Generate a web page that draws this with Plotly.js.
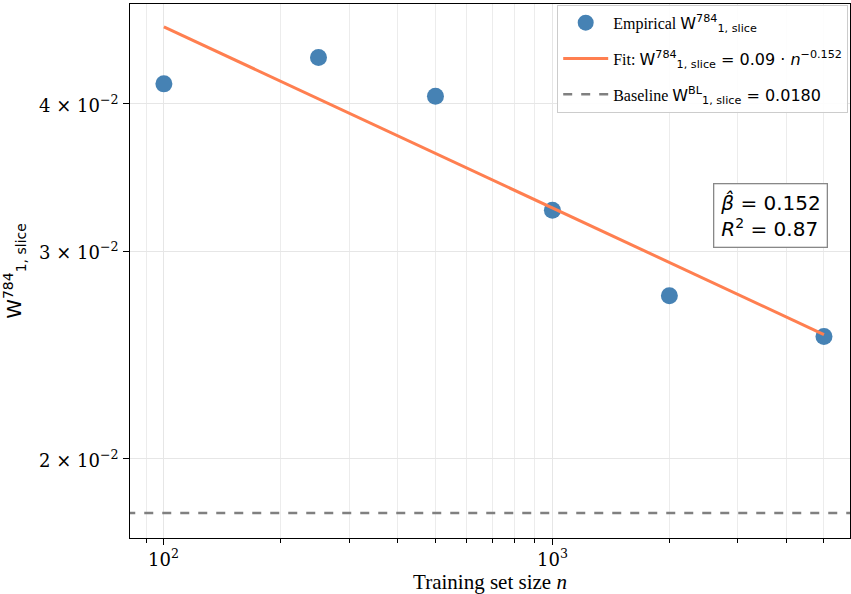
<!DOCTYPE html>
<html><head><meta charset="utf-8">
<script src="https://cdn.plot.ly/plotly-3.0.1.min.js"></script>
<style>body{margin:0;padding:0;background:#fff}#c{width:851px;height:594px}</style>
</head><body><div id="c"></div>
<script>
const trainSizes = [100, 250, 500, 1000, 2000, 5000];
const empirical = [0.0416, 0.0438, 0.0406, 0.0325, 0.0275, 0.0254];
const fitX = [100, 5000];
const fitY = [0.0465, 0.0255];
const baselineX = [80, 6000];
const baselineY = [0.0180, 0.0180];
const xTickVals = [100, 1000];
const xTickText = ['10<sup>2</sup>', '10<sup>3</sup>'];
const yTickVals = [0.02, 0.03, 0.04];
const yTickText = ['2 × 10<sup>−2</sup>', '3 × 10<sup>−2</sup>', '4 × 10<sup>−2</sup>'];
const xMinor = [90, 200, 300, 400, 500, 600, 700, 800, 900, 2000, 3000, 4000, 5000];

const serif = 'Liberation Serif, DejaVu Serif, serif';
const tickSerif = 'DejaVu Serif, serif';
const sans = 'DejaVu Sans, sans-serif';
const S = t => '<span style="font-family:DejaVu Sans">' + t + '</span>';
const W = 'W<sup>784</sup><sub>1, slice</sub>';

const traces = [
  {x: trainSizes, y: empirical, mode: 'markers', type: 'scatter', legendgroup: 'a',
   name: 'Empirical ' + S(W),
   marker: {size: 17, color: '#4682B4'}},
  {x: fitX, y: fitY, mode: 'lines', type: 'scatter', legendgroup: 'b',
   name: 'Fit: ' + S(W + ' = 0.09 · <i>n</i><sup>−0.152</sup>'),
   line: {color: '#FF7F50', width: 3}},
  {x: baselineX, y: baselineY, mode: 'lines', type: 'scatter', legendgroup: 'c',
   name: 'Baseline ' + S('W<sup>BL</sup><sub>1, slice</sub> = 0.0180'),
   line: {color: '#808080', width: 2.5, dash: 'dash'}}
];

const tickFont = {family: tickSerif, size: 18, color: '#000'};
const tickAnn = [
  ...yTickVals.map((v, i) => ({xref: 'paper', yref: 'y', x: -0.014, y: Math.log10(v),
    xanchor: 'right', yanchor: 'middle', showarrow: false, text: yTickText[i], font: tickFont})),
  ...xTickVals.map((v, i) => ({xref: 'x', yref: 'paper', x: Math.log10(v), y: -0.012,
    xanchor: 'center', yanchor: 'top', showarrow: false, text: xTickText[i], font: tickFont}))
];

const layout = {
  width: 851, height: 594,
  margin: {l: 130, r: 1, t: 4, b: 56},
  paper_bgcolor: '#fff', plot_bgcolor: '#fff',
  showlegend: true,
  legend: {x: 0.9975, y: 0.9985, xanchor: 'right', yanchor: 'top',
    bgcolor: 'rgba(255,255,255,0.9)', bordercolor: '#cccccc', borderwidth: 1,
    font: {family: serif, size: 16, color: '#000'}, tracegroupgap: 12, itemwidth: 45},
  xaxis: {type: 'log', range: [Math.log10(81.8), Math.log10(5834)],
    tickvals: xTickVals, showticklabels: false, ticks: 'outside', ticklen: 6, tickcolor: '#000',
    showline: true, linecolor: '#000', linewidth: 1.2, mirror: true,
    showgrid: true, gridcolor: '#e6e6e6', gridwidth: 1, zeroline: false,
    minor: {tickvals: xMinor, ticks: 'outside', ticklen: 3.5, tickcolor: '#000', showgrid: true, gridcolor: '#ececec', gridwidth: 1},
    title: {text: 'Training set size <i>n</i>', font: {family: serif, size: 21, color: '#000'}, standoff: 32}},
  yaxis: {type: 'log', range: [Math.log10(0.01714), Math.log10(0.04862)],
    tickvals: yTickVals, showticklabels: false, ticks: 'outside', ticklen: 6, tickcolor: '#000',
    showline: true, linecolor: '#000', linewidth: 1.2, mirror: true,
    showgrid: true, gridcolor: '#e6e6e6', gridwidth: 1, zeroline: false,
    title: {text: W, font: {family: sans, size: 20, color: '#000'}, standoff: 96}},
  annotations: [...tickAnn, {
    xref: 'paper', yref: 'paper', x: 0.889, y: 0.603, xanchor: 'center', yanchor: 'middle',
    text: '<i>β̂</i> = 0.152<br><i>R</i><sup>2</sup> = 0.87', showarrow: false, align: 'left',
    font: {family: sans, size: 20, color: '#000'},
    bgcolor: '#fff', bordercolor: '#888', borderwidth: 1.3, borderpad: 6
  }]
};
Plotly.newPlot('c', traces, layout, {displayModeBar: false, staticPlot: true});
</script></body></html>
